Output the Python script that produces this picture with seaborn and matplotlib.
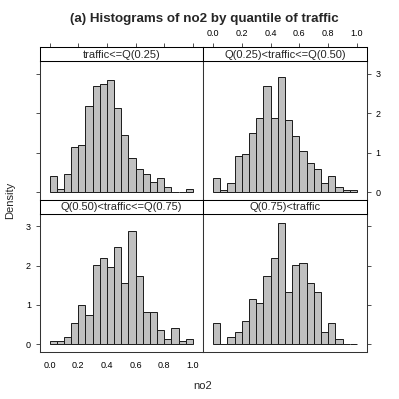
import pandas as pd
import matplotlib
matplotlib.use("Agg")
import matplotlib.pyplot as plt
import seaborn as sns

# histogram bins used by all four panels (width 0.05 on [0, 1])
bin_edges = [round(0.05 * k, 2) for k in range(21)]
bin_mids = [e + 0.025 for e in bin_edges[:-1]]

strip_labels = [
    "traffic<=Q(0.25)",
    "Q(0.25)<traffic<=Q(0.50)",
    "Q(0.50)<traffic<=Q(0.75)",
    "Q(0.75)<traffic",
]

# density per bin
dens_q1 = [0.42, 0.07, 0.47, 1.15, 1.20, 2.18, 2.69, 2.75, 2.86, 2.13,
           1.44, 0.87, 0.59, 0.47, 0.25, 0.36, 0.13, 0.00, 0.00, 0.07]
dens_q2 = [0.35, 0.06, 0.23, 0.92, 0.97, 1.49, 1.89, 2.70, 1.89, 2.93,
           1.83, 1.43, 1.04, 0.75, 0.58, 0.24, 0.41, 0.12, 0.06, 0.06]
dens_q3 = [0.07, 0.07, 0.19, 0.53, 0.99, 0.75, 2.02, 2.20, 1.97, 2.47,
           1.57, 2.88, 1.74, 0.82, 0.82, 0.36, 0.13, 0.42, 0.07, 0.13]
dens_q4 = [0.53, 0.00, 0.19, 0.31, 0.58, 1.15, 1.05, 1.74, 2.19, 3.10,
           1.33, 2.02, 2.07, 1.56, 1.33, 0.30, 0.53, 0.13, 0.00, 0.00]

x_ticks = [0.0, 0.2, 0.4, 0.6, 0.8, 1.0]
x_tick_labels = ["0.0", "0.2", "0.4", "0.6", "0.8", "1.0"]
y_ticks = [0, 1, 2, 3]
y_tick_labels = ["0", "1", "2", "3"]

sns.set_theme(style="white")
plt.rcParams["font.family"] = ["Liberation Sans", "DejaVu Sans"]

W = H = 399.0
fig = plt.figure(figsize=(3.99, 3.99), dpi=100)


def px_box(x0, y0, x1, y1):
    # pixel box (top-left origin) -> figure fraction rect
    return [x0 / W, 1 - y1 / H, (x1 - x0) / W, (y1 - y0) / H]


cols = [(39.5, 203.0), (203.0, 367.0)]
rows = [((47.0, 61.0), (61.0, 200.0)), ((200.0, 213.5), (213.5, 352.0))]

all_dens = [dens_q1, dens_q2, dens_q3, dens_q4]
xlim = (-0.07, 1.07)
ylim = (-0.2, 3.33)
line_col = "#333333"
tick_kw = dict(direction="out", length=3.2, width=0.6, colors=line_col,
               labelsize=6.5, pad=3, labelcolor="black")

for i, dens in enumerate(all_dens):
    r, c = divmod(i, 2)
    (sy0, sy1), (py0, py1) = rows[r]
    x0, x1 = cols[c]

    df = pd.DataFrame({"no2": bin_mids, "density": dens})
    ax = fig.add_axes(px_box(x0, py0, x1, py1))
    sns.histplot(data=df, x="no2", weights="density", bins=bin_edges,
                 stat="count", color="#C0C0C0", edgecolor="#1a1a1a",
                 linewidth=0.7, alpha=1.0, ax=ax)
    ax.set_xlim(*xlim)
    ax.set_ylim(*ylim)
    ax.set_xlabel("")
    ax.set_ylabel("")
    for sp in ax.spines.values():
        sp.set_color(line_col)
        sp.set_linewidth(0.75)

    # x ticks: bottom row only on the panel itself
    if r == 1:
        ax.set_xticks(x_ticks)
        ax.set_xticklabels(x_tick_labels if c == 0 else [])
    else:
        ax.set_xticks([])

    # y ticks: left column on the left, right column on the right
    ax.set_yticks(y_ticks)
    if c == 0:
        ax.yaxis.tick_left()
        ax.set_yticklabels(y_tick_labels if r == 1 else [])
    else:
        ax.yaxis.tick_right()
        ax.set_yticklabels(y_tick_labels if r == 0 else [])
    ax.tick_params(**tick_kw)

    # strip above each panel
    sax = fig.add_axes(px_box(x0, sy0, x1, sy1))
    sax.set_facecolor("white")
    sax.set_xlim(*xlim)
    sax.set_ylim(0, 1)
    sax.set_yticks([])
    for sp in sax.spines.values():
        sp.set_color("black")
        sp.set_linewidth(0.75)
    sax.text(0.5, 0.45, strip_labels[i], transform=sax.transAxes,
             ha="center", va="center", fontsize=8)
    if r == 0:
        sax.xaxis.tick_top()
        sax.set_xticks(x_ticks)
        sax.set_xticklabels(x_tick_labels if c == 1 else [])
        sax.tick_params(**tick_kw)
    else:
        sax.set_xticks([])

fig.text(204 / W, 1 - 19 / H, "(a) Histograms of no2 by quantile of traffic",
         ha="center", va="center", fontsize=9.6, fontweight="bold")
fig.text(10 / W, 1 - 200 / H, "Density", rotation=90,
         ha="center", va="center", fontsize=8)
fig.text(203 / W, 1 - 386 / H, "no2", ha="center", va="center", fontsize=8)

fig.savefig("out.png", dpi=100)
